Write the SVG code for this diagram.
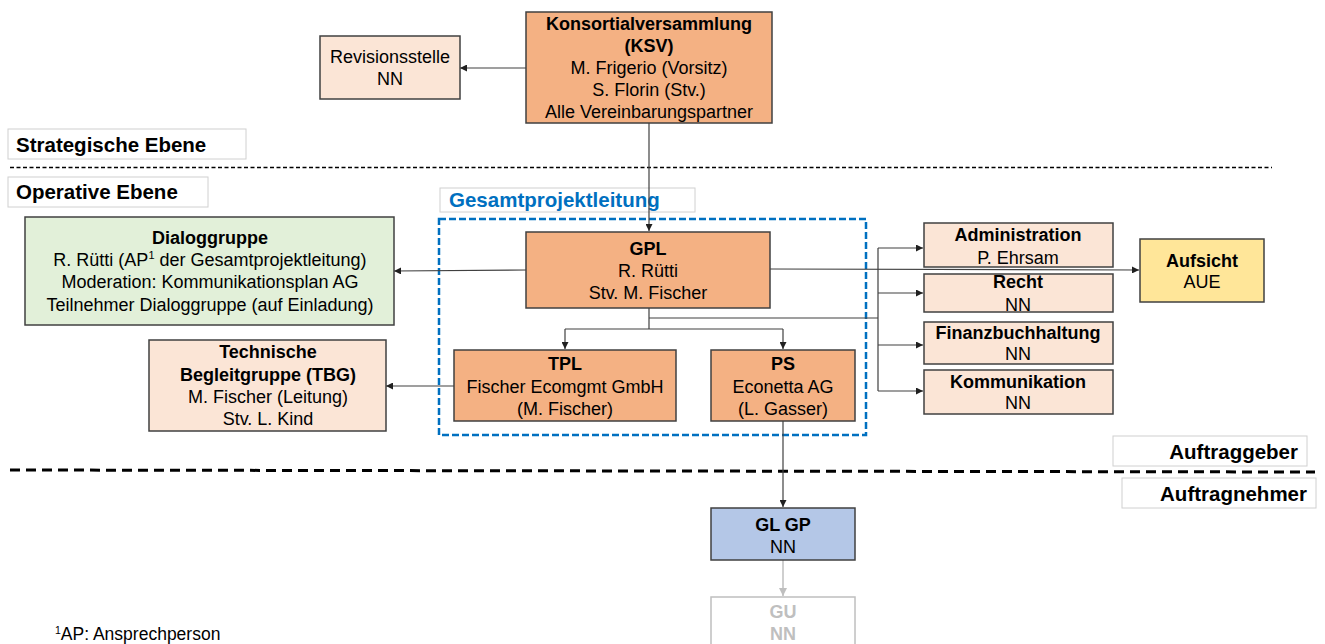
<svg xmlns="http://www.w3.org/2000/svg" width="1325" height="644" viewBox="0 0 1325 644">
<style>
text{font-family:"Liberation Sans",Arial,sans-serif;font-size:18px;fill:#000;text-anchor:middle}
.b{font-weight:bold}
.lbl{font-size:20.5px;font-weight:bold;text-anchor:start}
.box{stroke:#404040;stroke-width:1.5}
.dark{fill:#f4b183}
.light{fill:#fbe5d6}
.tag{fill:#fff;stroke:#d0d0d0;stroke-width:1}
.ln{fill:none;stroke:#404040;stroke-width:1.2}
.gr{fill:none;stroke:#bfbfbf;stroke-width:1.5}
</style>
<defs>
<marker id="ah" viewBox="0 0 10 10" refX="10" refY="5" markerWidth="7" markerHeight="7" markerUnits="userSpaceOnUse" orient="auto"><path d="M0,0 L10,5 L0,10 z" fill="#202020"/></marker>
<marker id="ahg" viewBox="0 0 10 10" refX="10" refY="5" markerWidth="8" markerHeight="8" markerUnits="userSpaceOnUse" orient="auto"><path d="M0,0 L10,5 L0,10 z" fill="#bfbfbf"/></marker>
</defs>

<!-- level labels and separators -->
<g id="levels">
<rect class="tag" x="8" y="129" width="238" height="30"/>
<text class="lbl" x="16" y="152">Strategische Ebene</text>
<line x1="10" y1="167.5" x2="1272" y2="167.5" stroke="#000" stroke-width="1.5" stroke-dasharray="4,2.5"/>
<rect class="tag" x="8" y="177" width="200" height="30"/>
<text class="lbl" x="16" y="199">Operative Ebene</text>
<rect class="tag" x="1113" y="436" width="194" height="30"/>
<text class="lbl" x="1298" y="459" style="text-anchor:end">Auftraggeber</text>
<line x1="10" y1="470" x2="1315" y2="472" stroke="#000" stroke-width="3" stroke-dasharray="10,6"/>
<rect class="tag" x="1122" y="478" width="194" height="30"/>
<text class="lbl" x="1307" y="501" style="text-anchor:end">Auftragnehmer</text>
</g>

<g id="gesamtprojektleitung">
<rect x="439" y="219" width="427" height="216" fill="none" stroke="#0070c0" stroke-width="2.5" stroke-dasharray="7,3"/>
<rect class="tag" x="440" y="188" width="255" height="24"/>
<text class="lbl" x="449" y="207" style="fill:#0070c0">Gesamtprojektleitung</text>
</g>

<g id="connectors">
<line class="ln" x1="526" y1="68" x2="460" y2="68" marker-end="url(#ah)"/>
<line class="ln" x1="649" y1="123" x2="649" y2="231" marker-end="url(#ah)"/>
<line class="ln" x1="526" y1="270" x2="394" y2="271" stroke="#7f7f7f" marker-end="url(#ah)"/>
<line class="ln" x1="454" y1="386" x2="386" y2="386" marker-end="url(#ah)"/>
<path class="ln" d="M649,308 V329 M565,329 H783"/>
<line class="ln" x1="565" y1="329" x2="565" y2="349" marker-end="url(#ah)"/>
<line class="ln" x1="783" y1="329" x2="783" y2="349" marker-end="url(#ah)"/>
<line class="ln" x1="770" y1="269" x2="1139" y2="270" marker-end="url(#ah)"/>
<path class="ln" d="M649,318 H878 M878,248 V391"/>
<line class="ln" x1="878" y1="248" x2="923" y2="248" marker-end="url(#ah)"/>
<line class="ln" x1="878" y1="293" x2="923" y2="293" marker-end="url(#ah)"/>
<line class="ln" x1="878" y1="345" x2="923" y2="345" marker-end="url(#ah)"/>
<line class="ln" x1="878" y1="391" x2="923" y2="391" marker-end="url(#ah)"/>
<line class="ln" x1="783" y1="421" x2="783" y2="507" marker-end="url(#ah)"/>
<line class="gr" x1="783" y1="560" x2="783" y2="596" marker-end="url(#ahg)"/>
</g>

<g id="ksv">
<rect class="box dark" x="526" y="12" width="246" height="111"/>
<text class="b" x="649" y="30">Konsortialversammlung</text>
<text class="b" x="649" y="52">(KSV)</text>
<text x="649" y="74">M. Frigerio (Vorsitz)</text>
<text x="649" y="96">S. Florin (Stv.)</text>
<text x="649" y="118">Alle Vereinbarungspartner</text>
</g>

<g id="revisionsstelle">
<rect class="box light" x="320" y="36" width="140" height="63"/>
<text x="390" y="63">Revisionsstelle</text>
<text x="390" y="85">NN</text>
</g>

<g id="dialoggruppe">
<rect class="box" fill="#e2f0d9" x="25" y="217" width="369" height="108"/>
<text class="b" x="210" y="244">Dialoggruppe</text>
<text x="210" y="266">R. Rütti (AP<tspan font-size="11" dy="-7">1</tspan><tspan dy="7"> der Gesamtprojektleitung)</tspan></text>
<text x="210" y="288">Moderation: Kommunikationsplan AG</text>
<text x="210" y="311">Teilnehmer Dialoggruppe (auf Einladung)</text>
</g>

<g id="tbg">
<rect class="box light" x="149" y="340" width="237" height="91"/>
<text class="b" x="268" y="358">Technische</text>
<text class="b" x="268" y="381">Begleitgruppe (TBG)</text>
<text x="268" y="403">M. Fischer (Leitung)</text>
<text x="268" y="425">Stv. L. Kind</text>
</g>

<g id="gpl">
<rect class="box dark" x="526" y="232" width="244" height="76"/>
<text class="b" x="648" y="255">GPL</text>
<text x="648" y="277">R. Rütti</text>
<text x="648" y="299">Stv. M. Fischer</text>
</g>

<g id="tpl">
<rect class="box dark" x="454" y="350" width="222" height="71"/>
<text class="b" x="565" y="370">TPL</text>
<text x="565" y="393">Fischer Ecomgmt GmbH</text>
<text x="565" y="415">(M. Fischer)</text>
</g>

<g id="ps">
<rect class="box dark" x="711" y="350" width="144" height="71"/>
<text class="b" x="783" y="370">PS</text>
<text x="783" y="393">Econetta AG</text>
<text x="783" y="415">(L. Gasser)</text>
</g>

<g id="administration">
<rect class="box light" x="924" y="223" width="189" height="44"/>
<text class="b" x="1018" y="241">Administration</text>
<text x="1018" y="264">P. Ehrsam</text>
</g>

<g id="recht">
<rect class="box light" x="924" y="274" width="189" height="38"/>
<text class="b" x="1018" y="288">Recht</text>
<text x="1018" y="311">NN</text>
</g>

<g id="finanzbuchhaltung">
<rect class="box light" x="924" y="322" width="189" height="42"/>
<text class="b" x="1018" y="339">Finanzbuchhaltung</text>
<text x="1018" y="360">NN</text>
</g>

<g id="kommunikation">
<rect class="box light" x="924" y="370" width="189" height="44"/>
<text class="b" x="1018" y="388">Kommunikation</text>
<text x="1018" y="409">NN</text>
</g>

<g id="aufsicht">
<rect class="box" fill="#ffe699" x="1140" y="239" width="124" height="63"/>
<text class="b" x="1202" y="267">Aufsicht</text>
<text x="1202" y="288">AUE</text>
</g>

<g id="glgp">
<rect class="box" fill="#b4c7e7" x="711" y="508" width="144" height="52"/>
<text class="b" x="783" y="531">GL GP</text>
<text x="783" y="553">NN</text>
</g>

<g id="gu">
<rect x="711" y="597" width="144" height="60" fill="#fff" stroke="#bfbfbf" stroke-width="1.5"/>
<text class="b" x="783" y="618" style="fill:#bfbfbf">GU</text>
<text x="783" y="640" style="fill:#bfbfbf;font-weight:bold">NN</text>
</g>

<g id="footnote">
<text x="55" y="640" style="text-anchor:start;font-size:17.5px"><tspan font-size="10.5" dy="-6">1</tspan><tspan dy="6">AP: Ansprechperson</tspan></text>
</g>
</svg>
